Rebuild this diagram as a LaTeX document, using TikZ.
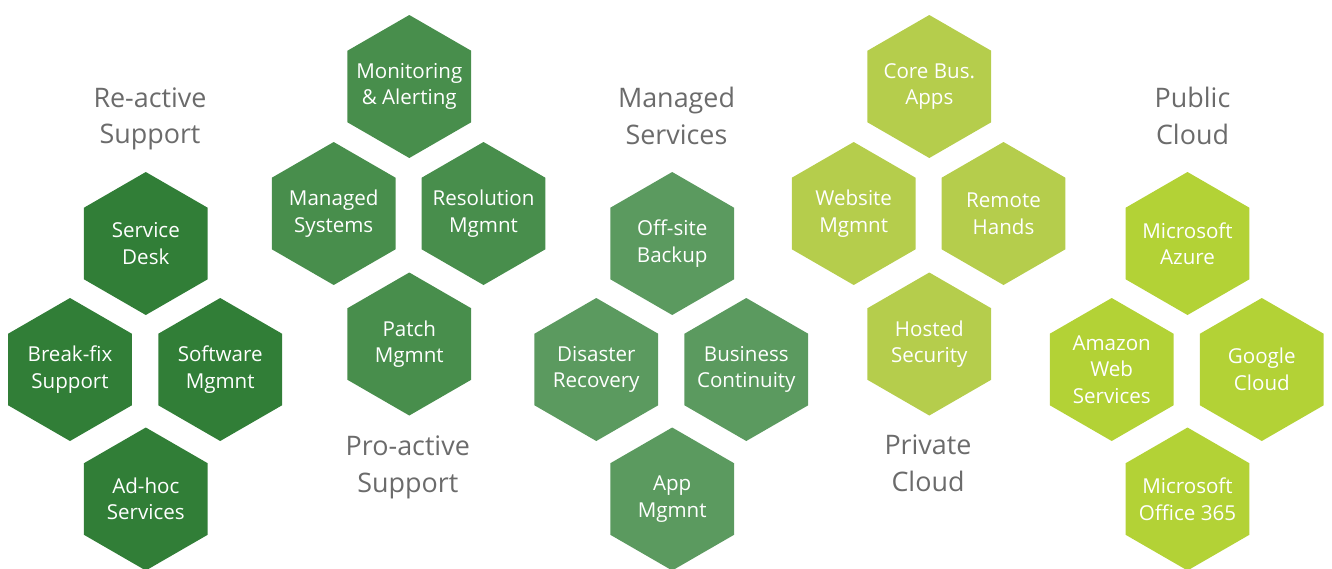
\documentclass[tikz,border=0pt]{standalone}
\usepackage{fontspec}
\setmainfont{Open Sans}
\usetikzlibrary{shapes.geometric}

\definecolor{reactive}{HTML}{317E37}
\definecolor{proactive}{HTML}{488E4C}
\definecolor{managed}{HTML}{5B9A5F}
\definecolor{private}{HTML}{B5CD4C}
\definecolor{public}{HTML}{B3D236}
\definecolor{titlegray}{HTML}{6B6B6B}

\begin{document}
\begin{tikzpicture}[
  hexcell/.style={regular polygon, regular polygon sides=6, shape border rotate=30,
    minimum size=2.86cm, inner sep=-6mm, outer sep=0pt, fill=#1, text=white,
    align=center, font=\fontsize{11.7}{15.1}\selectfont},
  grouptitle/.style={align=center, text=titlegray, font=\fontsize{15.3}{20.8}\selectfont}]
\useasboundingbox (0,0) rectangle (26.64,-11.36);

% re-active support
\node [grouptitle] (reTitle) at (3.0,-2.38) {Re-active\\Support};
\node [hexcell=reactive] (serviceDesk) at (2.916,-4.87) {Service\\Desk};
\node [hexcell=reactive] (breakFix) at (1.40,-7.39) {Break-fix\\Support};
\node [hexcell=reactive] (softMgmnt) at (4.404,-7.39) {Software\\Mgmnt};
\node [hexcell=reactive] (adHoc) at (2.916,-9.98) {Ad-hoc\\Services};

% pro-active support
\node [hexcell=proactive] (monitoring) at (8.186,-1.73) {Monitoring\\\& Alerting};
\node [hexcell=proactive] (managedSys) at (6.674,-4.27) {Managed\\Systems};
\node [hexcell=proactive] (resolution) at (9.67,-4.27) {Resolution\\Mgmnt};
\node [hexcell=proactive] (patch) at (8.186,-6.88) {Patch\\Mgmnt};
\node [grouptitle] (proTitle) at (8.156,-9.35) {Pro-active\\Support};

% managed services
\node [grouptitle] (manTitle) at (13.53,-2.32) {Managed\\Services};
\node [hexcell=managed] (offsite) at (13.444,-4.87) {Off-site\\Backup};
\node [hexcell=managed] (disaster) at (11.926,-7.39) {Disaster\\Recovery};
\node [hexcell=managed] (business) at (14.926,-7.39) {Business\\Continuity};
\node [hexcell=managed] (appMgmnt) at (13.444,-9.98) {App\\Mgmnt};

% private cloud
\node [hexcell=private] (coreBus) at (18.586,-1.73) {Core Bus.\\Apps};
\node [hexcell=private] (website) at (17.074,-4.27) {Website\\Mgmnt};
\node [hexcell=private] (remote) at (20.07,-4.27) {Remote\\Hands};
\node [hexcell=private] (hosted) at (18.586,-6.88) {Hosted\\Security};
\node [grouptitle] (privTitle) at (18.56,-9.27) {Private\\Cloud};

% public cloud
\node [grouptitle] (pubTitle) at (23.85,-2.32) {Public\\Cloud};
\node [hexcell=public] (azure) at (23.75,-4.87) {Microsoft\\Azure};
\node [hexcell=public] (amazon) at (22.234,-7.39) {Amazon\\Web\\Services};
\node [hexcell=public] (google) at (25.236,-7.39) {Google\\Cloud};
\node [hexcell=public] (office) at (23.75,-9.98) {Microsoft\\Office 365};

\end{tikzpicture}
\end{document}
